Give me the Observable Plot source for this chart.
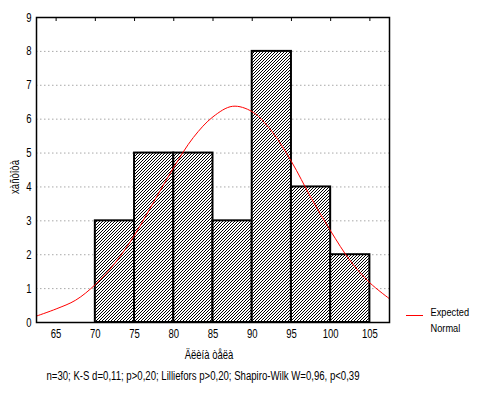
<!DOCTYPE html>
<html><head><meta charset="utf-8">
<script src="https://cdn.jsdelivr.net/npm/d3@7"></script>
<script src="https://cdn.jsdelivr.net/npm/@observablehq/plot@0.6"></script>
<style>
body{margin:0;background:#fff}
svg{font-family:"Liberation Sans",Arial,sans-serif}
</style>
</head><body><div id="chart"></div>
<script>
// Histogram bins and counts
const binStarts = [65, 70, 75, 80, 85, 90, 95, 100];
const binEnds   = [70, 75, 80, 85, 90, 95, 100, 105];
const counts    = [0, 3, 5, 5, 3, 8, 4, 2];
// Expected normal curve
const curveX = [62.5, 65, 67.5, 70, 72.5, 75, 77.5, 80, 82.5, 85, 87.5, 90, 92.5, 95, 97.5, 100, 102.5, 105, 107.5];
const curveY = [0.19, 0.40, 0.66, 1.12, 1.75, 2.58, 3.58, 4.58, 5.46, 6.07, 6.38, 6.22, 5.64, 4.75, 3.68, 2.70, 1.82, 1.17, 0.70];
const xTicks = [65, 70, 75, 80, 85, 90, 95, 100, 105];
const yTicks = [0, 1, 2, 3, 4, 5, 6, 7, 8, 9];
const gridY  = [1, 2, 3, 4, 5, 6, 7, 8];
const xLabel = "Äëèíà òåëà";
const yLabel = "xàñòîòà";
const caption = "n=30; K-S d=0,11; p>0,20; Lilliefors p>0,20; Shapiro-Wilk W=0,96, p<0,39";
const legendLines = ["Expected", "Normal"];

const bins = binStarts.map((s, i) => ({x1: s, x2: binEnds[i], count: counts[i]}));
const curve = curveX.map((x, i) => ({x, y: curveY[i]}));

const W = 479, H = 394, mL = 36, mR = 90, mT = 17, mB = 72;
const FONT = "Liberation Sans, Arial, sans-serif";

const chart = Plot.plot({
  width: W, height: H,
  marginLeft: mL, marginRight: mR, marginTop: mT, marginBottom: mB,
  style: {background: "#fff", color: "#000", fontSize: "12px", fontFamily: FONT},
  x: {domain: [62.5, 107.5], ticks: xTicks, label: null},
  y: {domain: [0, 9], ticks: yTicks, label: null},
  marks: [
    Plot.ruleY(gridY, {stroke: "#a8a8a8", strokeDasharray: "1.5,2.5", strokeWidth: 1}),
    Plot.rectY(bins, {x1: "x1", x2: "x2", y: "count", fill: "white", stroke: "black", strokeWidth: 2}),
    Plot.line(curve, {x: "x", y: "y", stroke: "#ff0000", strokeWidth: 1, curve: "catmull-rom", clip: true}),
    Plot.frame({stroke: "black", strokeWidth: 1.5}),
    Plot.ruleX(xTicks, {x: d => d, stroke: "black", strokeWidth: 1, insetBottom: H - mT - mB - 4}),
    Plot.axisX({ticks: xTicks, tickSize: 0, tickPadding: 7, label: null, fontSize: 12.5}),
    Plot.axisY({ticks: yTicks, tickSize: 0, tickPadding: 5, label: null, fontSize: 12.5}),
    Plot.text([xLabel], {text: d => d, frameAnchor: "bottom", dx: -4, dy: 36, fontSize: 12.5}),
    Plot.text([caption], {text: d => d, frameAnchor: "bottom", dx: -10, dy: 57, fontSize: 12}),
    Plot.text([yLabel], {text: d => d, frameAnchor: "left", textAnchor: "middle", rotate: -90, dx: -22, dy: 7, fontSize: 12.5}),
    Plot.text([legendLines[0]], {text: d => d, frameAnchor: "bottom-right", textAnchor: "start", dx: 41, dy: -7, fontSize: 10.5}),
    Plot.text([legendLines[1]], {text: d => d, frameAnchor: "bottom-right", textAnchor: "start", dx: 41, dy: 9, fontSize: 10.5})
  ]
});

// hatch pattern for the bars (pixel staircase "/")
const svg = d3.select(chart);
const defs = svg.insert("defs", ":first-child");
const pat = defs.append("pattern").attr("id", "hatch")
  .attr("patternUnits", "userSpaceOnUse").attr("width", 3).attr("height", 3);
pat.append("rect").attr("width", 3).attr("height", 3).attr("fill", "white");
[[0, 2], [1, 1], [2, 0]].forEach(([px, py]) =>
  pat.append("rect").attr("x", px).attr("y", py).attr("width", 1).attr("height", 1)
    .attr("fill", "black").attr("shape-rendering", "crispEdges"));
svg.selectAll("g[aria-label='rect'] rect").attr("fill", "url(#hatch)");
// legend swatch
svg.append("line").attr("x1", 406).attr("x2", 423).attr("y1", 315.5).attr("y2", 315.5)
  .attr("stroke", "#ff0000").attr("stroke-width", 1);

document.getElementById("chart").appendChild(chart);

// the reference typeface is condensed: narrow every text horizontally
svg.selectAll("text").each(function () {
  const len = this.getComputedTextLength();
  const t = this.textContent;
  const k = t === caption ? 0.8 : legendLines.includes(t) ? 0.88 : 0.76;
  if (len > 0) {
    d3.select(this).attr("textLength", len * k).attr("lengthAdjust", "spacingAndGlyphs");
  }
});
</script>
</body></html>
